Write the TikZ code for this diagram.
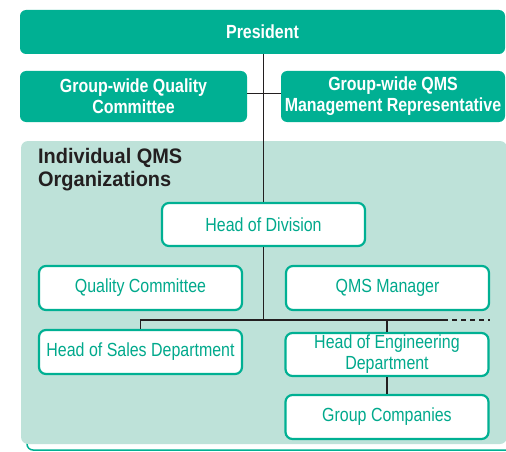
\documentclass[tikz,border=0pt]{standalone}
\usepackage{fontspec}
\setmainfont{Liberation Sans}[FakeStretch=0.84]
\newfontfamily\headfont{Liberation Sans}[FakeStretch=0.95]
\definecolor{qmsteal}{HTML}{00B093}
\definecolor{qmspale}{HTML}{BEE2D9}
\definecolor{qmsline}{HTML}{231F20}
\definecolor{qmstext}{HTML}{00A98C}
\begin{document}
\begin{tikzpicture}[x=1pt, y=-1pt,
    topbox/.style={rectangle, fill=qmsteal, text=white, rounded corners=6pt, inner sep=0pt, align=center, font=\fontsize{19}{21}\selectfont\bfseries},
    unitbox/.style={rectangle, draw=qmsteal, line width=2.2pt, fill=white, text=qmstext, rounded corners=7pt, inner sep=0pt, minimum width=203pt, align=center, font=\fontsize{19}{21}\selectfont},
    link/.style={draw=qmsline, line width=1.6pt}]

    \useasboundingbox (0,0) rectangle (506,452);

    % Group-wide level
    \node (pres) [topbox, minimum width=485pt, minimum height=44pt] at (262.5,32) {President};
    \node (gqc) [topbox, minimum width=227pt, minimum height=51pt] at (133.5,96.5) {Group-wide Quality\\Committee};
    \node (gmr) [topbox, minimum width=224pt, minimum height=51pt] at (393,96.5) {Group-wide QMS\\Management Representative};

    % Individual QMS panel
    \draw[qmsteal, line width=1.5pt, rounded corners=6pt] (27,440) -- (27,450) -- (506,450);
    \fill[qmspale, rounded corners=7pt] (21,141) rectangle (507,444);
    \node (panel) [anchor=north west, align=left, text=qmsline, inner sep=0pt, font=\fontsize{21}{23}\headfont\bfseries] at (38,148) {Individual QMS\\Organizations};

    % Division level boxes
    \node (hod) [unitbox, minimum height=43pt] at (263.5,224.5) {Head of Division};
    \node (qc) [unitbox, minimum height=44pt] at (140.5,288) {Quality Committee};
    \node (mgr) [unitbox, minimum height=44pt] at (387.5,288) {QMS Manager};
    \node (sales) [unitbox, minimum height=44pt] at (140.5,352) {Head of Sales Department};
    \node (eng) [unitbox, minimum height=43pt] at (387,354.5) {Head of Engineering\\Department};
    \node (grp) [unitbox, minimum height=44pt] at (387,417) {Group Companies};

    % Connectors
    \coordinate (split) at (264,320);
    \coordinate (more) at (490,320);
    \draw[link] (hod.north) -- (hod.north |- pres.south);
    \draw[link] ([yshift=3pt]gqc.east) -- ([yshift=3pt]gmr.west);
    \draw[link] (hod.south) -- (hod.south |- split);
    \draw[link] (sales.north) -- (sales.north |- split) -- (443,320);
    \draw[link, dash pattern=on 5pt off 4pt] (443,320) -- (more);
    \draw[link] (eng.north) -- (eng.north |- split);
    \draw[link] (eng.south) -- (grp.north);

\end{tikzpicture}
\end{document}
